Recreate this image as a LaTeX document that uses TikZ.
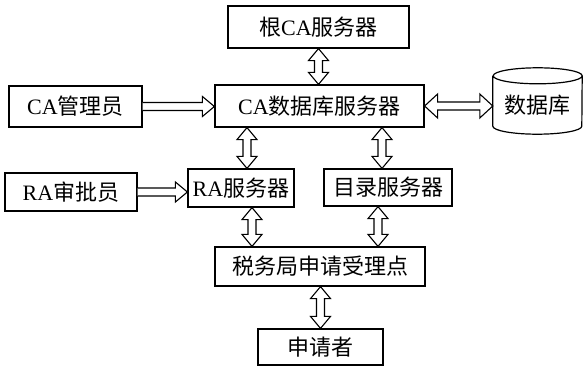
\documentclass[tikz,border=0pt]{standalone}
\usepackage{fontspec}
\setmainfont{Liberation Serif}
\newfontfamily\cjk{Noto Sans CJK SC}
\usetikzlibrary{calc}
\tikzset{
  box/.style={draw, line width=1.2pt, inner sep=0pt, font=\fontsize{22}{26}\selectfont},
  fat/.style={draw, line width=1.1pt, fill=white, line join=miter},
}
% vertical double fat arrow: #1 top point, #2 bottom point
\newcommand\vfat[2]{\draw[fat] let \p1=(#1), \p2=(#2) in
  (\x1,\y1) -- (\x1+10pt,\y1-12pt) -- (\x1+4pt,\y1-12pt) -- (\x1+4pt,\y2+12pt)
  -- (\x1+10pt,\y2+12pt) -- (\x1,\y2) -- (\x1-10pt,\y2+12pt) -- (\x1-4pt,\y2+12pt)
  -- (\x1-4pt,\y1-12pt) -- (\x1-10pt,\y1-12pt) -- cycle;}
% horizontal double fat arrow: #1 left point, #2 right point
\newcommand\hfat[2]{\draw[fat] let \p1=(#1), \p2=(#2) in
  (\x1,\y1) -- (\x1+13pt,\y1+12pt) -- (\x1+13pt,\y1+4pt) -- (\x2-13pt,\y1+4pt)
  -- (\x2-13pt,\y1+12pt) -- (\x2,\y1) -- (\x2-13pt,\y1-12pt) -- (\x2-13pt,\y1-4pt)
  -- (\x1+13pt,\y1-4pt) -- (\x1+13pt,\y1-12pt) -- cycle;}
% horizontal single fat arrow: #1 start point, #2 tip point
\newcommand\hsingle[2]{\draw[fat] let \p1=(#1), \p2=(#2) in
  (\x1,\y1+4pt) -- (\x2-12pt,\y1+4pt) -- (\x2-12pt,\y1+10pt) -- (\x2,\y1)
  -- (\x2-12pt,\y1-10pt) -- (\x2-12pt,\y1-4pt) -- (\x1,\y1-4pt);}
\begin{document}
\begin{tikzpicture}[x=1pt,y=1pt]
\useasboundingbox (0,0) rectangle (585,367);
\node[box, minimum width=181pt, minimum height=42pt] (root) at (318.5,340) {{\cjk 根}CA{\cjk 服务器}};
\node[box, minimum width=209pt, minimum height=42pt] (cadb) at (319.5,261) {CA{\cjk 数据库服务器}};
\node[box, minimum width=133pt, minimum height=41pt] (camgr) at (75.5,260.5) {CA{\cjk 管理员}};
\node[inner sep=0pt, minimum width=89pt, minimum height=66pt] (db) at (537.5,266) {};
\node[font=\fontsize{22}{26}\selectfont, inner sep=0pt] (dbt) at (537.5,262) {\cjk 数据库};
\node[box, minimum width=132pt, minimum height=38pt] (raapp) at (71,175) {RA{\cjk 审批员}};
\node[box, minimum width=106pt, minimum height=38pt] (ras) at (241,179) {RA{\cjk 服务器}};
\node[box, minimum width=128pt, minimum height=37pt] (dir) at (388,179.5) {\cjk 目录服务器};
\node[box, minimum width=210pt, minimum height=39pt] (tax) at (320,100.5) {\cjk 税务局申请受理点};
\node[box, minimum width=125pt, minimum height=36pt] (app) at (320.5,20) {\cjk 申请者};
% cylinder
\draw[line width=1.2pt] ([yshift=-8pt]db.north west) -- ([yshift=8pt]db.south west)
  arc[start angle=180, end angle=360, x radius=44.5pt, y radius=8pt]
  -- ([yshift=-8pt]db.north east)
  arc[start angle=0, end angle=360, x radius=44.5pt, y radius=8pt];
% helper coordinates
\coordinate (a1) at ([xshift=6pt]ras.north);
\coordinate (a2) at ([xshift=11pt]ras.south);
\coordinate (a3) at ([xshift=-6pt]dir.north);
\coordinate (a4) at ([xshift=-10pt]dir.south);
% arrows
\vfat{root.south}{root.south |- cadb.north}
\vfat{cadb.south -| a1}{a1}
\vfat{cadb.south -| a3}{a3}
\vfat{a2}{a2 |- tax.north}
\vfat{a4}{a4 |- tax.north}
\vfat{tax.south -| app.north}{app.north}
\hsingle{camgr.east}{camgr.east -| cadb.west}
\hsingle{raapp.east}{raapp.east -| ras.west}
\hfat{cadb.east}{cadb.east -| db.west}
\end{tikzpicture}
\end{document}
